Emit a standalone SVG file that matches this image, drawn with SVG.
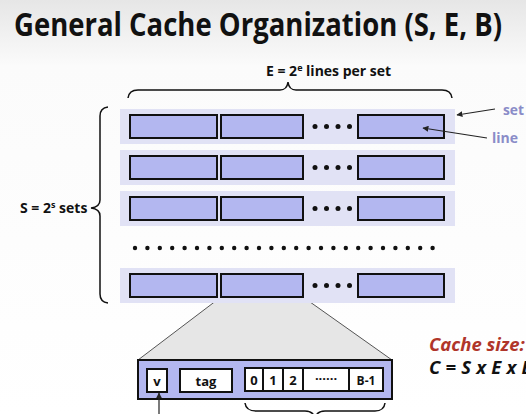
<svg xmlns="http://www.w3.org/2000/svg" width="526" height="414" viewBox="0 0 526 414">
  <defs>
    <linearGradient id="bg" x1="0" y1="0" x2="0" y2="1">
      <stop offset="0" stop-color="#e6e6e6"/>
      <stop offset="0.16" stop-color="#fbfbfb"/>
      <stop offset="1" stop-color="#ffffff"/>
    </linearGradient>
    <marker id="ah" viewBox="0 0 10 10" refX="9" refY="5" markerWidth="6" markerHeight="6" orient="auto-start-reverse" markerUnits="userSpaceOnUse">
      <path d="M0,0 L10,5 L0,10 z" fill="#222"/>
    </marker>
    <style>
      .t { font-family: "Open Sans", "Liberation Sans", sans-serif; font-weight: bold; fill: #111; }
      .setbg { fill: #e1e2f5; }
      .ln { fill: #b3b7f0; stroke: #111; stroke-width: 2; }
      .cell { fill: #ffffff; stroke: #111; stroke-width: 2; }
      .br { fill: none; stroke: #111; stroke-width: 1.5; }
      .dot { fill: #111; }
      .lbl { font-family: "Open Sans", "Liberation Sans", sans-serif; font-weight: bold; fill: #8a8cc8; font-size: 14px; }
      .conn { stroke: #222; stroke-width: 1.2; fill: none; }
      .ital { font-family: "Open Sans", "Liberation Sans", sans-serif; font-weight: bold; font-style: italic; font-size: 18.5px; }
    </style>
  </defs>
  <rect x="0" y="0" width="526" height="414" fill="url(#bg)"/>

  <text id="title" class="t" x="14" y="36" font-size="28" textLength="488" lengthAdjust="spacingAndGlyphs" transform="translate(0,36) scale(1,1.17) translate(0,-36)">General Cache Organization (S, E, B)</text>

  <g id="e-label">
    <text class="t" x="266" y="76" font-size="14">E = 2<tspan font-size="9" dy="-5">e</tspan><tspan dy="5"> lines per set</tspan></text>
    <path class="br" d="M128,98 Q129,90 138,90 L280,90 Q287,90 288,82 Q289,90 296,90 L442,90 Q451,90 452,98"/>
  </g>

  <g id="s-label">
    <text class="t" x="20" y="213" font-size="14">S = 2<tspan font-size="9" dy="-5">s</tspan><tspan dy="5"> sets</tspan></text>
    <path class="br" d="M108,107 Q100,108 100,116 L100,200 Q100,207 91,208 Q100,209 100,216 L100,294 Q100,302 108,303"/>
  </g>

  <g id="set1">
    <rect class="setbg" x="120" y="109" width="335" height="35"/>
    <rect class="ln" x="130" y="115" width="87" height="23"/>
    <rect class="ln" x="221" y="115" width="82" height="23"/>
    <circle class="dot" cx="315" cy="126.5" r="2.5"/><circle class="dot" cx="326.5" cy="126.5" r="2.5"/><circle class="dot" cx="338" cy="126.5" r="2.5"/><circle class="dot" cx="349.5" cy="126.5" r="2.5"/>
    <rect class="ln" x="358" y="115" width="86" height="23"/>
  </g>
  <g id="set2">
    <rect class="setbg" x="120" y="150" width="335" height="35"/>
    <rect class="ln" x="130" y="156" width="87" height="23"/>
    <rect class="ln" x="221" y="156" width="82" height="23"/>
    <circle class="dot" cx="315" cy="167.5" r="2.5"/><circle class="dot" cx="326.5" cy="167.5" r="2.5"/><circle class="dot" cx="338" cy="167.5" r="2.5"/><circle class="dot" cx="349.5" cy="167.5" r="2.5"/>
    <rect class="ln" x="358" y="156" width="86" height="23"/>
  </g>
  <g id="set3">
    <rect class="setbg" x="120" y="191" width="335" height="35"/>
    <rect class="ln" x="130" y="197" width="87" height="23"/>
    <rect class="ln" x="221" y="197" width="82" height="23"/>
    <circle class="dot" cx="315" cy="208.5" r="2.5"/><circle class="dot" cx="326.5" cy="208.5" r="2.5"/><circle class="dot" cx="338" cy="208.5" r="2.5"/><circle class="dot" cx="349.5" cy="208.5" r="2.5"/>
    <rect class="ln" x="358" y="197" width="86" height="23"/>
  </g>
  <g id="more-sets">
    <circle class="dot" cx="135" cy="248" r="2.2"/><circle class="dot" cx="147.4" cy="248" r="2.2"/><circle class="dot" cx="159.8" cy="248" r="2.2"/><circle class="dot" cx="172.2" cy="248" r="2.2"/><circle class="dot" cx="184.6" cy="248" r="2.2"/>
    <circle class="dot" cx="197" cy="248" r="2.2"/><circle class="dot" cx="209.4" cy="248" r="2.2"/><circle class="dot" cx="221.8" cy="248" r="2.2"/><circle class="dot" cx="234.2" cy="248" r="2.2"/><circle class="dot" cx="246.6" cy="248" r="2.2"/>
    <circle class="dot" cx="259" cy="248" r="2.2"/><circle class="dot" cx="271.4" cy="248" r="2.2"/><circle class="dot" cx="283.8" cy="248" r="2.2"/><circle class="dot" cx="296.2" cy="248" r="2.2"/><circle class="dot" cx="308.6" cy="248" r="2.2"/>
    <circle class="dot" cx="321" cy="248" r="2.2"/><circle class="dot" cx="333.4" cy="248" r="2.2"/><circle class="dot" cx="345.8" cy="248" r="2.2"/><circle class="dot" cx="358.2" cy="248" r="2.2"/><circle class="dot" cx="370.6" cy="248" r="2.2"/>
    <circle class="dot" cx="383" cy="248" r="2.2"/><circle class="dot" cx="395.4" cy="248" r="2.2"/><circle class="dot" cx="407.8" cy="248" r="2.2"/><circle class="dot" cx="420.2" cy="248" r="2.2"/><circle class="dot" cx="432.6" cy="248" r="2.2"/>
  </g>

  <polygon id="zoom" points="221,297 303,297 392,360 138,360" fill="#e6e6e6" stroke="#555" stroke-width="1"/>

  <g id="set4">
    <rect class="setbg" x="120" y="268" width="335" height="35"/>
    <rect class="ln" x="130" y="274" width="87" height="23"/>
    <rect class="ln" x="221" y="274" width="82" height="23"/>
    <circle class="dot" cx="315" cy="285.5" r="2.5"/><circle class="dot" cx="326.5" cy="285.5" r="2.5"/><circle class="dot" cx="338" cy="285.5" r="2.5"/><circle class="dot" cx="349.5" cy="285.5" r="2.5"/>
    <rect class="ln" x="358" y="274" width="86" height="23"/>
  </g>

  <g id="line-detail">
    <rect class="ln" x="138" y="360" width="254" height="39" stroke-width="2.5"/>
    <rect class="cell" x="147" y="369" width="20" height="23"/>
    <text class="t" x="157" y="386" font-size="13" text-anchor="middle">v</text>
    <rect class="cell" x="180" y="369" width="52" height="23"/>
    <text class="t" x="206" y="386" font-size="13" text-anchor="middle">tag</text>
    <rect class="cell" x="245" y="368" width="18" height="23"/>
    <text class="t" x="254" y="385" font-size="13" text-anchor="middle">0</text>
    <rect class="cell" x="263" y="368" width="20" height="23"/>
    <text class="t" x="273" y="385" font-size="13" text-anchor="middle">1</text>
    <rect class="cell" x="283" y="368" width="20" height="23"/>
    <text class="t" x="293" y="385" font-size="13" text-anchor="middle">2</text>
    <rect class="cell" x="303" y="368" width="46" height="23"/>
    <text class="t" x="326" y="383" font-size="13" text-anchor="middle">······</text>
    <rect class="cell" x="349" y="368" width="34" height="23"/>
    <text class="t" x="366" y="385" font-size="12" text-anchor="middle">B-1</text>
    <path class="br" d="M245,403 Q246,411 256,411 L305,411 Q313,411 315,418 Q317,411 325,411 L375,411 Q384,411 385,403"/>
  </g>

  <g id="labels">
    <text class="lbl" x="503" y="115" textLength="21" lengthAdjust="spacingAndGlyphs">set</text>
    <text class="lbl" x="492" y="143">line</text>
  </g>

  <g id="cache-size">
    <text class="ital" x="429" y="351" fill="#b0352a">Cache size:</text>
    <text class="ital" x="429" y="374" fill="#111" letter-spacing="0.2">C = S x E x B</text>
  </g>

  <g id="connectors">
    <line class="conn" x1="495" y1="109" x2="457" y2="115" marker-end="url(#ah)"/>
    <line class="conn" x1="487" y1="138" x2="423" y2="128" marker-end="url(#ah)"/>
    <line class="conn" x1="159" y1="414" x2="159" y2="393" marker-end="url(#ah)"/>
  </g>
</svg>
